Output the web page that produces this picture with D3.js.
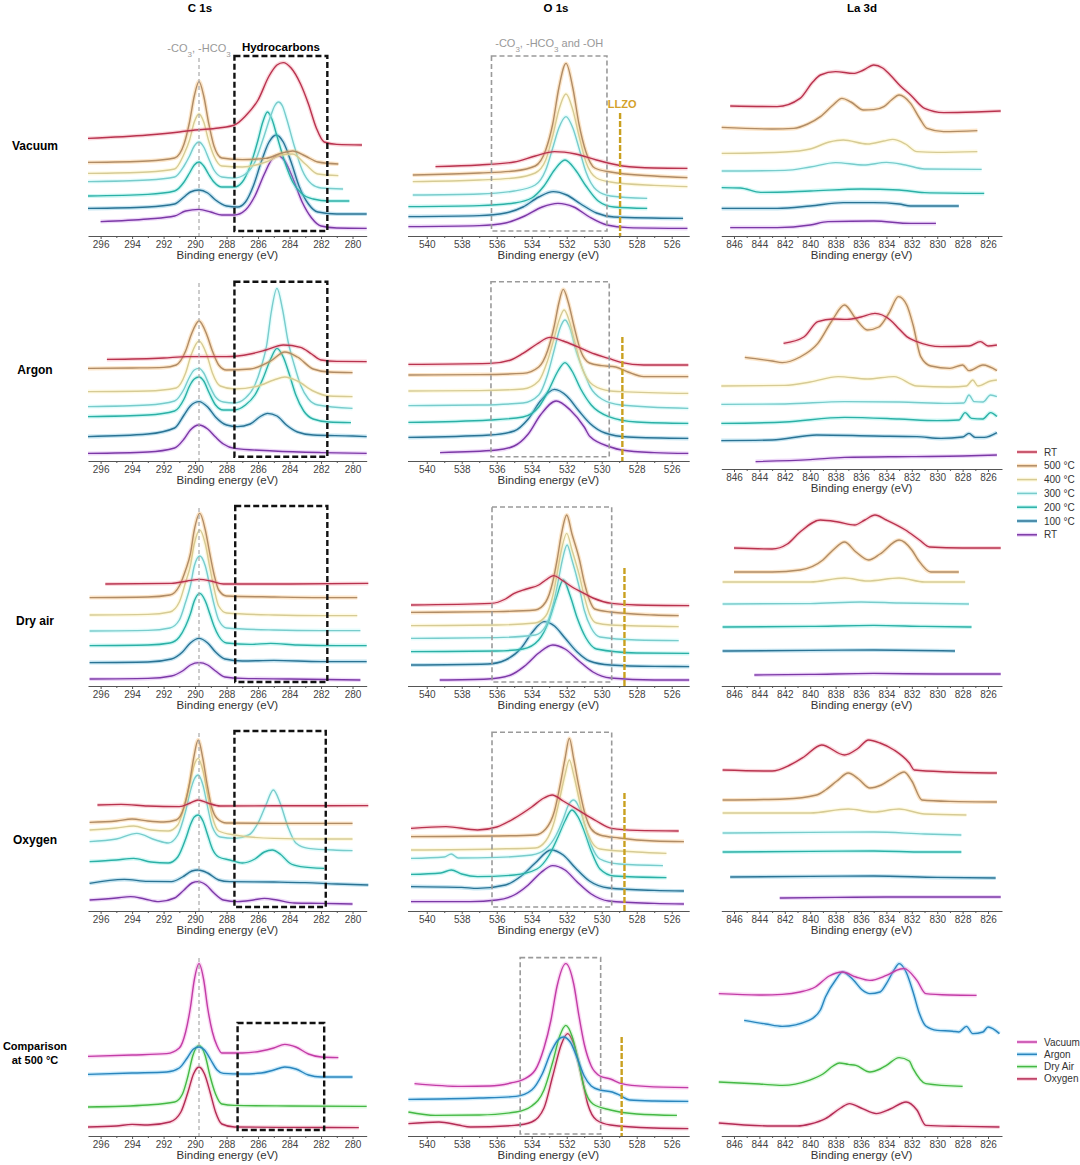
<!DOCTYPE html>
<html>
<head>
<meta charset="utf-8">
<script src="https://cdn.jsdelivr.net/npm/d3@7"></script>
<style>
  body { margin: 0; background: #fff; }
  svg { font-family: "Liberation Sans", Arial, sans-serif; }
</style>
</head>
<body>
<div id="chart"></div>
<script>
/* Series names, as in the two legends. */
const tempSeries = ["RT", "500 °C", "400 °C", "300 °C", "200 °C", "100 °C", "RT"];
const gasSeries = ["Vacuum", "Argon", "Dry Air", "Oxygen"];

/* Titles of columns and rows. */
const regionTitles = ["C 1s", "O 1s", "La 3d"];
const rowLabels = [["Vacuum"], ["Argon"], ["Dry air"], ["Oxygen"], ["Comparison", "at 500 °C"]];

/* Tick labels for each core level. */
const c1sTicks = [296, 294, 292, 290, 288, 286, 284, 282, 280];
const o1sTicks = [540, 538, 536, 534, 532, 530, 528, 526];
const la3dTicks = [846, 844, 842, 840, 838, 836, 834, 832, 830, 828, 826];

/* Spectra: [binding energy (eV), stacked intensity (a.u.)]. */
const c1sVacuum = [
  [[296.8,48.8],[293,50.5],[291,52],[290,53],[288.5,54],[287.5,55.5],[286.8,60],[286,68],[285.3,80],[284.8,85.5],[284.4,86.7],[283.9,84],[283.3,76],[282.8,66],[282.3,54],[281.8,47],[281,45.8],[279.4,45.5]],
  [[296.8,36.8],[293,37.5],[291.3,39],[290.7,46],[290.35,57],[290.05,70],[289.75,77.2],[289.45,70],[289.15,57],[288.8,45],[288.3,39],[287,38.2],[285.5,38.8],[284.5,41.5],[283.8,42.5],[283,40],[282.2,37],[280.9,36]],
  [[296.8,31.3],[293,32],[291.3,33.5],[290.7,41],[290.35,48],[290.05,57],[289.75,61],[289.45,57],[289.15,48],[288.8,40],[288.3,35],[287,34.5],[285.5,37],[284.5,40.5],[283.8,41],[283,36],[282.2,31],[280.9,30.2]],
  [[296.8,27.2],[293,28],[291.3,29.5],[290.7,35],[290.35,40],[290.05,45],[289.75,47],[289.45,44.5],[289.15,39],[288.8,33],[288.3,29.5],[287.5,29],[286.8,31],[286.2,37],[285.7,48],[285.2,60],[284.95,65],[284.7,67],[284.45,65],[284.2,59],[283.7,45],[283.2,33],[282.6,26],[282,24],[280.6,23.5]],
  [[296.8,20],[293,20.8],[291.3,22.5],[290.7,27],[290.35,31.5],[290.05,35.5],[289.75,37],[289.45,35],[289.15,31],[288.8,27],[288.3,24.5],[287.5,24.5],[287,27],[286.5,35],[286,48],[285.7,57],[285.4,62],[285.1,58],[284.8,50],[284.3,37],[283.8,27],[283.2,21],[282.5,18.5],[281.5,17.5],[280.2,17.5]],
  [[296.8,13.8],[293,14.5],[291.3,16],[290.7,19.5],[290.3,22],[289.75,23],[289.2,21.5],[288.7,18],[288,15],[287.3,14.5],[286.8,17],[286.3,25],[285.8,37],[285.3,47],[284.85,50.5],[284.4,47],[283.9,37],[283.4,25],[282.8,16],[282.2,12],[281,11],[279.1,11]],
  [[296,7.2],[293,8.5],[291.3,10],[290.6,12.5],[289.75,13.3],[289,12],[288.3,10.5],[287.5,10.5],[286.8,13],[286.2,20],[285.6,31],[285.1,38.5],[284.7,40],[284.3,37.5],[283.8,29],[283.2,17],[282.6,9],[282,5],[281,4],[279.1,3.8]]
];
const o1sVacuum = [
  [[539.5,34.7],[537,35.5],[535,37],[533.8,40],[532.7,42.2],[531.5,41],[530.3,38],[528.8,35],[527,34],[525.1,33.8]],
  [[540.8,30.5],[537,31.5],[535,32.5],[533.8,35],[533.2,43],[532.8,56],[532.45,74],[532.04,86.3],[531.65,74],[531.3,56],[530.9,42],[530.4,34],[529.5,32],[527,30],[525.1,29.2]],
  [[540.8,27.2],[537,28],[535,29],[533.8,31.5],[533.2,38],[532.8,50],[532.45,63],[532.04,71],[531.65,63],[531.3,50],[530.9,37],[530.3,29],[529.5,27],[527,25.3],[525.1,24.7]],
  [[540.8,20.5],[537,21],[535,22.5],[533.8,25.5],[533.2,33],[532.8,44],[532.45,54],[532.04,59.7],[531.65,54],[531.3,44],[530.9,32],[530.3,23],[529.5,20],[527.4,18.8]],
  [[541.05,14.7],[537,15.2],[535,16.5],[534,19],[533.3,25],[532.7,33],[532.1,38],[531.5,33],[530.9,25],[530.2,17.5],[529.3,14.5],[527.4,13.8]],
  [[541.05,9.7],[537,10.2],[535.5,11.5],[534.5,14.5],[533.6,19.5],[532.77,22.2],[532,20.5],[531.2,16],[530.3,11.5],[529.3,9.5],[525.35,8.8]],
  [[541.05,4.7],[537,5.2],[535.5,6.5],[534.4,10],[533.4,14.5],[532.5,16.3],[531.6,14.5],[530.7,9.5],[529.7,5.5],[528.5,4.2],[525.1,3.8]]
];
const la3dVacuum = [
  [[846.3,65],[842.6,64.7],[840.8,68.8],[839.8,77],[839.2,80.5],[838,82.2],[836.6,81.3],[835.8,83],[835,85.5],[834.3,84],[833.7,80.5],[832.9,75],[832.1,70.5],[831,63.8],[829.5,61.7],[827,62],[825,62.5]],
  [[846.97,54.3],[843,53.5],[841.3,53.8],[840.2,56],[839.2,59.7],[838.2,65.5],[837.5,68.8],[836.8,67],[835.8,63],[835,63.2],[834.2,64.7],[833.6,68],[833,70.5],[832.1,66.3],[831.4,59],[830.8,53.8],[829.5,52.2],[826.84,52.7]],
  [[846.97,41.3],[842,42],[840,43.5],[838.5,47],[837.4,48],[835.5,46],[834.2,47.5],[833.5,48.3],[832.5,46],[831.6,42.2],[830,41.8],[826.84,42.2]],
  [[846.97,32.5],[842,32.8],[840,34.5],[838,36.7],[835.8,35.5],[834,36.8],[832.5,35.5],[831,33.5],[826.5,33.3]],
  [[846.97,24.2],[845.5,24],[843.9,21.8],[840,22.5],[836,23.5],[833,23],[831,21.7],[826.3,21.3]],
  [[846.97,13.8],[842.6,13.8],[840,15],[837.4,16.7],[835,16.7],[833,16],[832.1,15],[828.3,15]],
  [[846.3,4.2],[842.6,4.2],[840,5.5],[838.6,7.2],[835,7.5],[832.1,6.3],[830.1,6.3]]
];

const c1sArgon = [
  [[295.6,50.8],[292,51.5],[290.5,52.2],[288,52.2],[286.5,53.5],[285.5,55.5],[284.4,58],[283.3,56.8],[282.6,53.5],[282,50.5],[281,49.8],[279.1,49.7]],
  [[296.8,46.3],[294,46.5],[292,46.8],[291.2,48],[290.6,55],[290.25,63],[289.75,70],[289.25,63],[288.9,55],[288.5,48],[288,45.5],[286.5,46],[285.2,50],[284.3,54.5],[283.5,52],[282.5,46],[281.5,44.5],[280,44.2]],
  [[296.8,34.7],[293,35],[291.2,36.5],[290.6,44],[290.25,53],[289.75,60],[289.25,53],[288.9,44],[288.4,37.5],[287.5,36],[286,37.5],[285,40.5],[284.3,42],[283.5,40],[282.5,35],[281.5,32.5],[280,32.2]],
  [[296.8,27.2],[293,28],[291.3,30],[290.7,36],[290.35,42],[290.05,45.5],[289.75,46.3],[289.45,44],[289.1,38],[288.7,32],[288.2,29.5],[287.5,29],[286.8,31.5],[286.2,38],[285.8,47],[285.45,58],[285.15,75],[284.8,86.3],[284.45,76],[284.1,60],[283.7,48],[283.3,38],[282.8,31],[282.2,28],[280,26.3]],
  [[296.8,22.2],[293,23],[291.3,25],[290.7,31],[290.35,37.5],[290.05,41],[289.75,42],[289.45,40],[289.1,34],[288.7,28],[288.2,25.5],[287.5,25.5],[286.8,28],[286.2,33],[285.7,41],[285.2,51],[284.8,56.3],[284.4,52],[284,43],[283.6,33],[283.1,25],[282.5,21],[281.5,19.5],[280.1,19.2]],
  [[296.8,12.2],[293,13.5],[291.3,16.5],[290.7,23],[290.3,27.5],[289.75,29.7],[289.2,27],[288.7,22],[288,18],[287.3,17.2],[286.5,18.5],[285.9,22],[285.4,23.8],[284.8,22.5],[284.2,18],[283.5,14.5],[282.5,13],[280,12.5],[279.1,12.2]],
  [[296.8,3.8],[293,4.5],[291.3,6.5],[290.7,11],[290.3,15.5],[289.75,18],[289.2,16],[288.7,12],[288.2,8.5],[287.5,6.3],[285,5],[282,4.2],[279.1,3.8]]
];
const o1sArgon = [
  [[541.05,48.3],[536.4,48.8],[535.2,50.5],[534.5,53.8],[533.7,58.5],[532.95,61.8],[532.2,60],[531.4,57.2],[530.4,53.5],[529.6,51.3],[528.9,49.3],[527.6,48],[525.05,48]],
  [[541.05,43],[537,43.2],[534.5,43.8],[533.6,47],[533.1,55],[532.7,68],[532.45,79],[532.2,85.8],[531.9,79],[531.6,68],[531.2,55],[530.7,49],[530,47.7],[529.2,47],[528.5,44.5],[527.6,42.2],[525.05,42.2]],
  [[541.05,35],[537,35.2],[534.5,36],[533.6,40],[533.1,50],[532.7,62],[532.45,70],[532.15,75.5],[531.85,70],[531.55,60],[531.1,46],[530.5,38],[529.5,35],[528.9,34.7],[525.05,33.8]],
  [[541.05,27.7],[537,28],[534.5,29],[533.6,33],[533.1,43],[532.7,56],[532.4,66],[532.1,70.5],[531.8,66],[531.5,56],[531,44],[530.67,37.2],[530,31],[528.9,28],[525.05,26.3]],
  [[541.05,19.3],[536.4,20.5],[534.5,22],[533.6,27],[533,36],[532.5,45],[532.1,49.2],[531.7,45],[531.2,36],[530.6,28],[529.6,22.2],[528,19.5],[525.05,18.8]],
  [[541.05,11.8],[536.4,13],[535,15],[534.2,21],[533.5,30],[532.7,35.8],[532,32.5],[531.3,25],[530.67,18.8],[529.8,14],[528.5,12],[525.05,11.3]],
  [[539.24,4.2],[536,5.5],[535,7.5],[534.2,13.5],[533.5,23],[532.6,30],[531.8,25.5],[531,17],[530.67,12.2],[529.5,7],[528.86,5.5],[527,4.2],[525.05,3.8]]
];
const la3dArgon = [
  [[842.1,62.8],[840.5,66],[839.4,73.7],[838.2,75],[837.1,74.8],[836,76],[834.9,77.8],[833.7,74.5],[833,70],[832.4,66.2],[831.6,63.7],[829.7,61.2],[827.5,61.5],[826.6,63.7],[826,61.5],[825.3,62]],
  [[845.15,55.8],[843,54],[842.2,53.2],[840.8,56],[839.4,62.8],[838.3,74],[837.3,82],[836.4,75],[835.5,69.5],[834.6,71],[833.8,78],[833.05,86.2],[832.4,82],[831.9,72],[831.3,56.2],[830.5,51.5],[829,50.3],[828,52],[827.5,49.2],[826.4,52],[825.3,49.2]],
  [[847,41.5],[842,41.8],[840,43.5],[837.8,46.2],[835.5,45],[833.4,46.2],[831.6,41.5],[829,41],[827.7,41.5],[827.2,44.5],[826.8,41.5],[825.8,44],[825.3,44.5]],
  [[847,32.3],[842,32.5],[837.3,33.7],[833,33.5],[829,32.8],[827.9,33],[827.5,37],[827.1,33.7],[826.4,33.5],[825.8,37],[825.3,36.2]],
  [[847,22.8],[842,23.5],[837.3,25.8],[833,25],[830,24.2],[828.3,24.5],[827.8,28.2],[827.3,25.3],[826.4,25],[825.8,28.2],[825.3,26.2]],
  [[847,14.2],[843,14.5],[839.5,17],[835,16.5],[831.6,16.2],[829.7,15.3],[828,16],[827.5,17.8],[827,15.8],[826.3,15.8],[825.3,18.2]],
  [[844.3,3.7],[840,4.7],[837.3,5.8],[832,6.2],[828,6.5],[825.3,7]]
];

const c1sDryAir = [
  [[295.7,51],[291.5,51.3],[290.5,52.5],[289.7,53.3],[289,52.5],[288.2,51],[284,51],[279,51.3]],
  [[296.7,44.2],[293,44.5],[291.6,45.5],[291,50],[290.6,58],[290.3,66],[290.05,78],[289.7,86.3],[289.35,78],[289.06,66],[288.8,56],[288.5,48],[288,45],[285,44.5],[282,44.2],[279.7,44.2]],
  [[296.7,35.5],[293,35.8],[291.6,37],[291,42],[290.6,52],[290.3,60],[290.05,71],[289.7,78],[289.35,71],[289.06,59],[288.8,49],[288.5,40],[288,36.5],[285,35.5],[282,35.2],[279.7,35.2]],
  [[296.7,27.5],[293,27.8],[291.6,29],[291,33],[290.6,42],[290.3,50],[290.05,60],[289.7,65],[289.35,60],[289.06,50],[288.8,41],[288.5,33],[288,29],[285,28],[282,27.7],[279.5,27.7]],
  [[296.7,20.2],[293,20.5],[291.6,21.5],[291,24.5],[290.6,30],[290.3,36],[290.05,42.5],[289.7,46.3],[289.35,42.5],[289.06,36],[288.8,30],[288.5,25],[288,21.5],[286.5,20.8],[285.2,21.3],[283.5,20.5],[281,20.2],[279.1,20.2]],
  [[296.7,11.7],[293,12],[291.5,13.5],[290.8,17],[290.3,21.5],[289.75,23.8],[289.2,21.5],[288.7,17],[288.1,13.5],[287,12.5],[285,12.8],[282,12.2],[279.1,12.2]],
  [[296.7,3.5],[293,3.8],[291.5,5],[290.8,7.5],[290.3,10.5],[289.75,11.7],[289.2,10.5],[288.7,7.5],[288.1,4.5],[287,3.8],[284,3.5],[279.5,3]]
];
const o1sDryAir = [
  [[540.9,40.5],[536.3,41.3],[535.5,43.5],[535,46.3],[534.3,48.5],[533.6,50.5],[533.2,53],[532.75,55.2],[532.2,52.5],[531.6,49],[531.2,47.2],[530.5,44],[529.43,41.3],[528,40.5],[525,40.2]],
  [[540.9,36.8],[536,37.2],[533.8,38],[533.2,42],[532.8,52],[532.55,63],[532.3,76],[532,85.5],[531.7,76],[531.27,63],[531,52],[530.7,43],[530.4,38.5],[529.5,37],[527,35.5],[525.6,35.2]],
  [[540.9,30.2],[536,30.5],[533.8,31.5],[533.2,35],[532.8,45],[532.55,56],[532.3,68],[532,76.3],[531.7,68],[531.27,55],[531,45],[530.7,36],[530.3,31.5],[529.5,30.5],[525.6,29.7]],
  [[540.9,23.8],[536,24.2],[533.8,25.5],[533.2,30],[532.8,40],[532.5,52],[532.25,63],[531.98,70.5],[531.7,63],[531.3,50],[531,38],[530.6,29],[530.1,24.5],[528,23],[525.6,22.7]],
  [[540.9,17.2],[536,17.5],[534.5,18.5],[533.6,23],[533,33],[532.6,44],[532.2,53],[531.8,45],[531.4,34],[530.9,24],[530.3,18.5],[528,16.5],[525,16.3]],
  [[540.9,10.5],[536.5,11],[535.5,13],[534.6,19],[534,26.5],[533.3,32.2],[532.7,30],[532.1,24],[531.4,17],[530.7,12.5],[529.5,10.5],[527,9.8],[525,9.7]],
  [[539.26,3],[536.5,3.5],[535.2,5.5],[534.4,10],[533.6,16.5],[532.8,20.5],[532.1,18.5],[531.3,12.5],[530.5,7],[529.5,4],[527,3],[525,3]]
];
const la3dDryAir = [
  [[846,69],[843,68.5],[841.8,71],[840.8,77],[839.2,83],[837.8,82],[836.5,80.5],[835.7,83],[834.9,85.5],[834,83],[832.5,78],[831.4,73],[830.6,69.5],[828,69],[825,69]],
  [[846,57],[843,57],[840.8,58],[839,63],[838.2,68],[837.3,72],[836.4,67],[835.4,63],[834.5,66],[833,73],[832,68],[831.5,63],[830.5,57],[828.3,57]],
  [[846.9,52],[840,52],[837.3,54],[835.5,52.5],[833,54],[831,52],[827.8,52]],
  [[846.9,41],[840,41.2],[836,42],[833,41.5],[827.5,41]],
  [[846.9,29.5],[840,29.8],[835,30.3],[831,29.8],[827.3,29.5]],
  [[846.9,17.5],[840,17.8],[835,18],[828.6,17.5]],
  [[844.4,5.5],[840,5.8],[835,6.3],[830,6],[825,6]]
];

const c1sOxygen = [
  [[296.2,53],[294.7,53.3],[293,52.5],[291,52.2],[290.3,54],[289.8,55.5],[289.2,54],[288.4,52.5],[285,52.6],[279,52.7]],
  [[296.7,44.3],[295,45],[294,46],[293,45],[292,44.5],[291.2,45.5],[290.7,52],[290.35,64],[290.1,76],[289.8,85.5],[289.5,76],[289.25,64],[288.95,52],[288.6,46.3],[288,44],[285,43.8],[280,43.8]],
  [[296.7,40.5],[295,41.5],[293.9,42.5],[292.8,40.5],[291.7,40],[291.1,43],[290.6,55],[290.3,65],[290.05,73],[289.8,76.3],[289.5,70],[289.2,58],[288.9,47],[288.5,40],[287.5,38],[285,36.3],[282,36],[280,36]],
  [[296.7,34.7],[295,36],[293.7,38.8],[292.5,35.5],[291.7,34],[291.1,38],[290.6,50],[290.3,60],[290.05,66],[289.8,68],[289.5,63],[289.2,52],[288.9,42],[288.4,37],[287.5,36.3],[286.6,38],[286,44],[285.5,53],[285.03,60.5],[284.6,54],[284.1,42],[283.6,34],[282.8,31.3],[281,30.4],[280,30.2]],
  [[296.7,24.7],[295,25.5],[293.9,26.3],[292.8,24.5],[291.7,24],[291.1,27],[290.6,36],[290.3,43],[290.05,47],[289.8,48],[289.5,45],[289.2,38],[288.9,31],[288.5,27],[287.8,25.5],[287,24],[286.2,26],[285.6,29.5],[285.1,30.5],[284.6,28.5],[284,24],[283.3,22.2],[281.8,21.3]],
  [[296.7,13.8],[294.5,15.8],[293,14.8],[291.5,14.7],[290.8,17],[290.2,20],[289.8,20.5],[289.2,19],[288.5,15.5],[287.8,14.7],[285,14.5],[283,14.2],[281,13.5],[279,13]],
  [[296.7,5.5],[295,6.5],[294.1,7.2],[293.2,6],[292.3,4.7],[291.3,6.5],[290.7,10.5],[290.2,14],[289.8,14.7],[289.3,13],[288.8,9],[288.2,5.5],[287.3,4.7],[286.3,5.5],[285.6,6.3],[284.8,5.5],[283.7,4],[282,3.8],[280,3.5]]
];
const o1sOxygen = [
  [[540.9,41.3],[538.9,42.2],[537.1,40.5],[536,42],[535,46.3],[534,52],[533.3,56.5],[532.83,58],[532.2,55],[531.2,49.7],[530.3,45],[529.43,41.3],[528,40.3],[525.6,40]],
  [[540.9,37.2],[536,37.5],[533.8,38],[533.2,41],[532.7,50],[532.4,62],[532.1,76],[531.85,86.3],[531.6,76],[531.3,62],[531,50],[530.6,41],[530.1,38],[529,36.5],[527,35],[525.3,34.7]],
  [[540.9,30.5],[536,31],[533.8,31.5],[533.2,35],[532.7,45],[532.4,56],[532.1,68],[531.85,75.5],[531.6,68],[531.3,56],[531,44],[530.6,35],[530.1,31],[528,29.5],[526.3,28.8]],
  [[540.9,26.3],[539,27],[538.6,28.5],[538.2,26.5],[536,26.8],[534,28],[533.2,31],[532.6,38],[532.2,46],[531.9,53],[531.6,55.5],[531.3,52],[531,44],[530.6,33],[530.1,26],[529,23.5],[526.5,22.7]],
  [[540.9,18.3],[539.2,19],[538.6,20.5],[538,18.5],[537.1,17.2],[535,18],[533.7,21],[533,28],[532.5,37],[532.1,45],[531.7,50.5],[531.35,47],[531,40],[530.6,30],[530.1,21],[529.3,17.5],[526.3,16.7]],
  [[540.9,12.2],[538,11.8],[537.1,11.3],[535.5,13],[534.6,17.5],[533.8,24],[532.9,30.5],[532.2,28],[531.5,21.5],[530.7,15],[529.6,11.5],[527,10.3],[525.3,10]],
  [[540.9,4.7],[537.5,4.7],[536,5.5],[535,8],[534.2,13],[533.5,19],[532.8,22.7],[532.1,20.5],[531.4,14.5],[530.6,8.5],[529.6,5],[527,3.8],[525.3,3.5]]
];
const la3dOxygen = [
  [[846.9,70.5],[843,70],[841.6,73],[840.5,77],[839.1,83],[837.3,78],[836.3,81],[835.4,85.5],[834.5,84],[833.4,80.5],[832.2,74],[831.8,70.5],[829,69.5],[825.3,69]],
  [[846.9,55.5],[842,56],[839.5,58],[838.8,60.5],[837.9,65],[837,69],[836.2,66],[835.3,61.5],[834.4,63],[833.5,66.5],[832.6,69.5],[832,65],[831.2,55.5],[829,54.8],[825.3,54.5]],
  [[846.9,49],[840,49],[837,51],[835,49.5],[833,51],[831,48.5],[827.7,48]],
  [[846.9,39],[840,39.3],[835,39.5],[831,38.5],[828.1,38]],
  [[846.9,29.5],[840,29.8],[835,30],[831,29.5],[828.1,29.5]],
  [[846.3,17],[840,17.3],[835,17.5],[830,16.8],[825.4,16.5]],
  [[842.4,6.5],[838,6.8],[834,7],[830,7],[825,7]]
];

const c1sComparison = [
  [[296.8,39.8],[294,40.5],[291.8,41.2],[291,44],[290.6,52],[290.3,64],[290.05,78],[289.75,86.2],[289.45,78],[289.2,64],[288.9,52],[288.6,45],[288.3,41.5],[287,41.5],[285.8,42.5],[285,44],[284.3,45.8],[283.6,44.5],[282.8,41],[282,39.5],[280.9,39.2]],
  [[296.8,30.8],[294,31.5],[291.8,32],[291,34],[290.5,39],[290.1,43.5],[289.75,44.5],[289.4,43],[289,38],[288.6,33],[288.2,31.3],[287,31],[285.8,31.5],[285,33],[284.3,34.5],[283.6,33.5],[282.8,30.5],[282,29.5],[280,29.5]],
  [[296.8,14.5],[293,15.5],[291.3,17],[290.8,21],[290.45,30],[290.15,40],[289.75,45.3],[289.35,40],[289.05,30],[288.7,21],[288.3,16],[287.5,15.3],[284,15],[279.1,14.8]],
  [[296.8,4.5],[295,5],[294,5.8],[293,5.5],[291.6,7],[290.9,12],[290.45,22],[290.1,31],[289.75,34.5],[289.4,31],[289.05,22],[288.7,12],[288.3,6],[287.5,4.5],[284,4.3],[279.6,4.2]]
];
const o1sComparison = [
  [[540.7,26.2],[538,24.8],[536.4,25],[535.2,26.5],[534.5,28.2],[533.8,33],[533.3,44],[532.9,58],[532.55,75],[532.05,86.2],[531.6,76],[531.3,60],[531,46],[530.6,35],[530.1,30],[529.5,28.5],[528.86,26.2],[527.5,24.8],[525.05,24.2]],
  [[541.05,18.3],[537,19],[534.9,19.8],[534,23],[533.4,31],[532.9,42],[532.5,48],[532.2,49.5],[531.8,47],[531.4,39],[531,30],[530.6,25],[530.1,23],[529.4,22],[528.95,20.3],[528.4,18],[527,17.5],[525.05,17.3]],
  [[541.05,12],[539.5,10.3],[537,10.5],[534.9,12],[534,15],[533.3,23],[532.8,37],[532.4,50],[532.05,55.3],[531.7,50],[531.35,38],[531,24],[530.5,16],[529.5,13],[528,11],[525.7,10.3]],
  [[541.05,6.2],[539.3,7],[538.2,5.5],[537.5,4.5],[535,5.3],[534,7],[533.3,14],[532.8,30],[532.3,46],[531.95,51.2],[531.6,46],[531.2,32],[530.8,16],[530.3,8],[529.5,5.5],[527,4],[525.05,3.7]]
];
const la3dComparison = [
  [[847.2,71.2],[844,70.5],[842.2,70.8],[840.8,72],[839.6,74.5],[838.5,80],[837.45,82],[836.4,79.5],[835.3,77.8],[834,80.3],[832.9,83.5],[832.6,83.7],[831.6,77.8],[830.9,71.2],[829,70.5],[826.9,70.3]],
  [[845.2,57.8],[843.5,56],[842.2,54.8],[840.1,57.8],[839.2,63],[838.8,69.5],[838,78],[837.45,82],[836.6,78],[835.9,73],[835.3,71.2],[834.5,72],[834,76.2],[833.4,83],[833,86.2],[832.45,82],[831.9,72],[831.4,61.2],[830.9,55],[830,52.8],[828.8,52.4],[828.3,52],[827.7,54.8],[827.2,51.2],[826.4,52],[826,54.5],[825.1,51.2]],
  [[847.2,27],[844,26],[842.2,25.3],[840.1,27.8],[839,31],[838.2,35],[837.7,36.5],[837,35.8],[836.4,35.3],[835.3,32],[834.5,33.5],[834,35.3],[833,39.2],[832.2,37.5],[831.9,33.7],[830.9,26.2],[828,24.8]],
  [[847.2,6.5],[843,5],[841,5],[840,6],[838.8,8.7],[837.6,14],[836.9,16.2],[836,14],[834.8,11.2],[833.7,13.5],[832.45,17],[831.6,13],[830.9,5.3],[828,4.8],[825.1,4.5]]
];

/* Highlight boxes [from eV, to eV, top, bottom] per row, carbonate line and LLZO markers [eV, top]. */
const c1sBoxes = [[287.5,281.6,90,2.5],[287.5,281.6,89.6,2.1],[287.45,281.6,90,2],[287.5,281.7,90,2],[287.3,281.8,56.5,3]];
const o1sBoxes = [[536.3,529.7,90,2.5],[536.33,529.57,89.6,2.1],[536.27,529.43,89.5,2],[536.27,529.43,89.4,2],[534.66,530.06,89.2,1]];
const carbonateLine = [289.75, 89];
const llzoLines = [[528.95,61.5],[528.82,62],[528.7,59],[528.7,59],[528.86,49.5]];

/* ---------------- Layout and style ---------------- */
const chartParams = {
  width: 1080,
  height: 1165,
  colDomain: [[296.8, 279.1], [541.1, 525.0], [847.0, 824.9]],
  colRange: [[88, 366.7], [407.5, 689.2], [721.3, 1002]],
  colCenter: [200, 556, 862],
  rowAxisY: [[236, 236, 236], [461, 461, 469], [686, 686, 686], [911, 911, 911], [1136, 1136, 1136]],
  rowLabelY: [146, 370, 621, 840, 1053],
  labelX: 35,
  plotHeight: 200
};
const tempCore = ["#b8324e", "#b08c66", "#d6cb95", "#78cccc", "#2bb0a6", "#2a7394", "#7b38a6"];
const tempHalo = ["#f07a8c", "#f5a84a", "#fff0a0", "#a8f4f4", "#5ee6dc", "#3aa6d0", "#c47ae8"];
const gasCore = ["#c23ca6", "#2a85bd", "#45b845", "#b32c55"];
const gasHalo = ["#f07ad8", "#45b5f0", "#8ee88e", "#f07a9c"];

const rowPanels = [
  [c1sVacuum, o1sVacuum, la3dVacuum],
  [c1sArgon, o1sArgon, la3dArgon],
  [c1sDryAir, o1sDryAir, la3dDryAir],
  [c1sOxygen, o1sOxygen, la3dOxygen],
  [c1sComparison, o1sComparison, la3dComparison]
];
const colTicks = [c1sTicks, o1sTicks, la3dTicks];

const svg = d3.select("#chart")
  .append("svg")
  .attr("width", chartParams.width)
  .attr("height", chartParams.height);

/* Column titles. */
svg.selectAll("text.title")
  .data(regionTitles)
  .enter()
  .append("text")
  .attr("class", "title")
  .attr("x", (d, i) => chartParams.colCenter[i])
  .attr("y", 12)
  .attr("text-anchor", "middle")
  .style("font-size", "11.5px")
  .style("font-weight", "bold")
  .text(d => d);

/* Row labels. */
rowLabels.forEach((lines, r) => {
  const t = svg.append("text")
    .attr("x", chartParams.labelX)
    .attr("y", chartParams.rowLabelY[r] + 4 - (lines.length - 1) * 7)
    .attr("text-anchor", "middle")
    .style("font-size", lines.length > 1 ? "11px" : "12px")
    .style("font-weight", "bold");
  lines.forEach((s, k) => {
    t.append("tspan").attr("x", chartParams.labelX).attr("dy", k === 0 ? 0 : 14).text(s);
  });
});

rowPanels.forEach((cols, r) => cols.forEach((curves, c) => drawPanel(r, c, curves)));

buildLegend(tempSeries, tempCore, tempHalo, 452, 13.8);
buildLegend(gasSeries, gasCore, gasHalo, 1042, 12.3);

// ---------------- Helper functions ---------------- //

function drawPanel(r, c, curves) {
  const ay = chartParams.rowAxisY[r][c];
  const x = d3.scaleLinear().domain(chartParams.colDomain[c]).range(chartParams.colRange[c]);
  const y = d3.scaleLinear().domain([0, 100]).range([ay, ay - chartParams.plotHeight]);
  const comparison = r === 4;
  const core = comparison ? gasCore : tempCore;
  const halo = comparison ? gasHalo : tempHalo;
  const g = svg.append("g");

  const line = d3.line()
    .x(d => x(d[0]))
    .y(d => y(d[1]))
    .curve(d3.curveMonotoneX);

  /* Draw bottom spectrum first so the top one sits above. */
  const order = d3.range(curves.length).reverse();
  order.forEach(i => {
    g.append("path")
      .attr("d", line(curves[i]))
      .attr("fill", "none")
      .attr("stroke", halo[i])
      .attr("stroke-width", 4)
      .attr("stroke-opacity", 0.3);
    g.append("path")
      .attr("d", line(curves[i]))
      .attr("fill", "none")
      .attr("stroke", core[i])
      .attr("stroke-width", 1.4)
      .attr("stroke-linejoin", "round");
  });

  /* Annotations. */
  if (c === 0) {
    g.append("line")
      .attr("x1", x(carbonateLine[0])).attr("x2", x(carbonateLine[0]))
      .attr("y1", y(carbonateLine[1])).attr("y2", y(0))
      .attr("stroke", "#aaa").attr("stroke-width", 1.2)
      .attr("stroke-dasharray", "4,3");
    const b = c1sBoxes[r];
    g.append("rect")
      .attr("x", x(b[0])).attr("y", y(b[2]))
      .attr("width", x(b[1]) - x(b[0])).attr("height", y(b[3]) - y(b[2]))
      .attr("fill", "none").attr("stroke", "#111").attr("stroke-width", 2.4)
      .attr("stroke-dasharray", "6,3");
    if (r === 0) {
      const t = g.append("text")
        .attr("x", x(carbonateLine[0])).attr("y", 52)
        .attr("text-anchor", "middle")
        .style("font-size", "11px").style("fill", "#999");
      t.append("tspan").text("-CO");
      t.append("tspan").attr("baseline-shift", "sub").style("font-size", "8px").text("3");
      t.append("tspan").text(", -HCO");
      t.append("tspan").attr("baseline-shift", "sub").style("font-size", "8px").text("3");
      g.append("text")
        .attr("x", (x(b[0]) + x(b[1])) / 2).attr("y", 51)
        .attr("text-anchor", "middle")
        .style("font-size", "11.5px").style("font-weight", "bold")
        .text("Hydrocarbons");
    }
  }
  if (c === 1) {
    const b = o1sBoxes[r];
    g.append("rect")
      .attr("x", x(b[0])).attr("y", y(b[2]))
      .attr("width", x(b[1]) - x(b[0])).attr("height", y(b[3]) - y(b[2]))
      .attr("fill", "none").attr("stroke", "#9a9a9a").attr("stroke-width", 1.6)
      .attr("stroke-dasharray", "5,3");
    const l = llzoLines[r];
    g.append("line")
      .attr("x1", x(l[0])).attr("x2", x(l[0]))
      .attr("y1", y(l[1])).attr("y2", y(0))
      .attr("stroke", "#c9a020").attr("stroke-width", 2.4)
      .attr("stroke-dasharray", "6,2");
    if (r === 0) {
      const t = g.append("text")
        .attr("x", (x(b[0]) + x(b[1])) / 2).attr("y", 47)
        .attr("text-anchor", "middle")
        .style("font-size", "11px").style("fill", "#999");
      t.append("tspan").text("-CO");
      t.append("tspan").attr("baseline-shift", "sub").style("font-size", "8px").text("3");
      t.append("tspan").text(", -HCO");
      t.append("tspan").attr("baseline-shift", "sub").style("font-size", "8px").text("3");
      t.append("tspan").text(" and -OH");
      g.append("text")
        .attr("x", x(l[0]) + 2).attr("y", 108)
        .attr("text-anchor", "middle")
        .style("font-size", "11px").style("font-weight", "bold").style("fill", "#d4a12a")
        .text("LLZO");
    }
  }

  /* Bottom axis with major and minor ticks. */
  const ticks = colTicks[c];
  const minor = ticks.slice(0, -1).map(t => t + (ticks[1] - ticks[0]) / 2);
  const axisG = g.append("g")
    .attr("transform", "translate(0," + ay + ")")
    .call(d3.axisBottom(x).tickValues(ticks).tickSize(3).tickSizeOuter(0).tickPadding(2).tickFormat(d3.format("d")));
  axisG.append("g")
    .call(d3.axisBottom(x).tickValues(minor).tickSize(2).tickSizeOuter(0).tickFormat(""))
    .select(".domain").remove();
  axisG.selectAll("path.domain").attr("stroke", "#555");
  axisG.selectAll(".tick line").attr("stroke", "#555");
  axisG.selectAll(".tick text")
    .style("font-size", "10px")
    .style("fill", "#444")
    .style("font-family", "'Liberation Sans', Arial, sans-serif");

  g.append("text")
    .attr("x", d3.mean(chartParams.colRange[c]))
    .attr("y", ay + 23)
    .attr("text-anchor", "middle")
    .style("font-size", "11.5px")
    .style("fill", "#333")
    .text("Binding energy (eV)");
}

function buildLegend(names, core, halo, top, step) {
  const legend = svg.append("g")
    .attr("transform", "translate(1017," + top + ")");
  names.forEach((name, i) => {
    legend.append("line")
      .attr("x1", 0).attr("x2", 20)
      .attr("y1", i * step).attr("y2", i * step)
      .attr("stroke", halo[i]).attr("stroke-width", 4).attr("stroke-opacity", 0.35);
    legend.append("line")
      .attr("x1", 0).attr("x2", 20)
      .attr("y1", i * step).attr("y2", i * step)
      .attr("stroke", core[i]).attr("stroke-width", 1.5);
    legend.append("text")
      .attr("x", 27).attr("y", i * step + 3.5)
      .style("font-size", "10px").style("fill", "#333")
      .text(name);
  });
}
</script>
</body>
</html>
